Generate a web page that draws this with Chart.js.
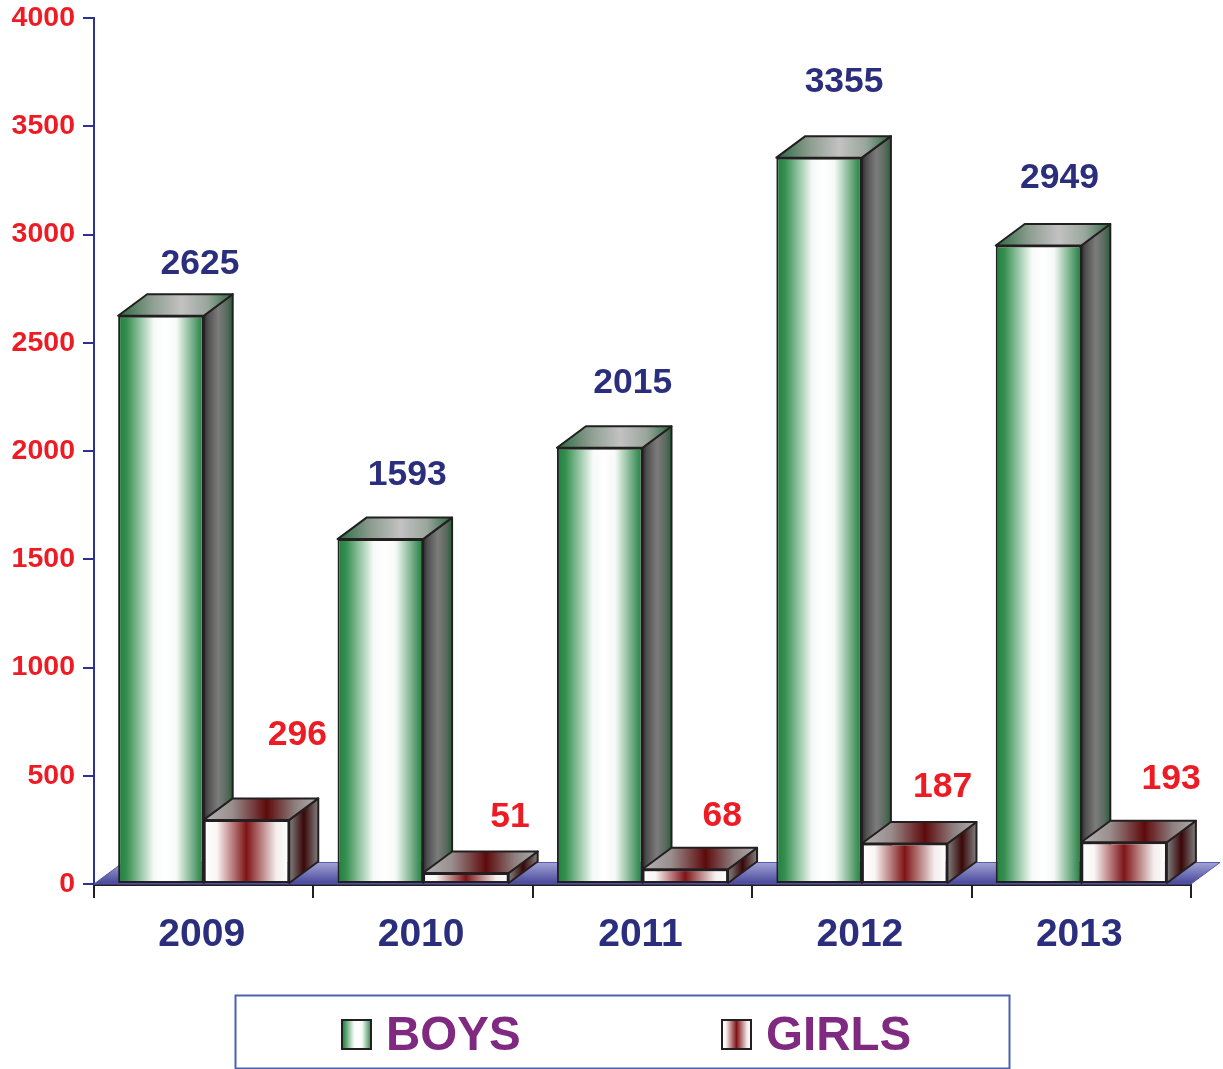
<!DOCTYPE html>
<html>
<head>
<meta charset="utf-8">
<title>Boys and girls</title>
<script src="https://cdn.jsdelivr.net/npm/chart.js@4"></script>
<style>
    html, body { margin: 0; padding: 0; background: #fff; overflow: hidden; }
    canvas { display: block; }
</style>
</head>
<body>
<canvas id="chart" width="1223" height="1069"></canvas>
<script>
// Values
const years = ["2009", "2010", "2011", "2012", "2013"];
const boys = [2625, 1593, 2015, 3355, 2949];
const girls = [296, 51, 68, 187, 193];

// Value labels sit off to the side of each bar, offsets from the bar top centre
const boysLabelDx = [39, 27, 33, 25, 21];
const boysLabelDy = [-51, -64, -65, -75, -67];
const girlsLabelDx = [51, 44, 37, 38, 47];
const girlsLabelDy = [-85, -56, -53, -56, -63];

const FONT = '"Liberation Sans", Arial, sans-serif';
const DARK = '#231f20';
const NAVY = '#2b2e7c';
const RED = '#ed1c24';
const PURPLE = '#7f2a80';
const DEPTH_X = 29;
const DEPTH_Y = 21.5;
const BAR_SHARE = 0.78;

// Gradient stops for the faces of the bars
const boysFront = [[0, '#1f7f3c'], [0.1, '#358f50'], [0.42, '#f6faf7'], [0.55, '#ffffff'], [0.68, '#f6faf7'], [0.95, '#3f8f58'], [1, '#1f7f3c']];
const boysTop = [[0, '#2a6a40'], [0.3, '#8f9e92'], [0.55, '#c2c2c2'], [0.78, '#9aa69c'], [1, '#2a6a40']];
const boysSide = [[0, '#2d2d2d'], [0.15, '#505050'], [0.5, '#7c7c7c'], [0.8, '#5a6a5e'], [1, '#26603a']];
const girlsFront = [[0, '#ffffff'], [0.15, '#fbf6f6'], [0.5, '#7e1416'], [0.85, '#f5eeee'], [1, '#ffffff']];
const girlsTop = [[0, '#b4b4b4'], [0.25, '#9a8e8e'], [0.55, '#5e0a0c'], [0.8, '#8f8080'], [1, '#b0b0b0']];
const girlsSide = [[0, '#808080'], [0.5, '#3a0708'], [1, '#808080']];

function makeGradient(ctx, x0, x1, stops) {
    const gradient = ctx.createLinearGradient(x0, 0, x1, 0);
    stops.forEach(stop => gradient.addColorStop(stop[0], stop[1]));
    return gradient;
}

// Scriptable fill: each bar gets its own gradient, side is -1 for boys, 0 for girls
function frontFill(stops, side) {
    return function (context) {
        const chart = context.chart;
        const xScale = chart.scales.x;
        if (!xScale || context.dataIndex === undefined) return stops[0][1];
        const centre = xScale.getPixelForTick(context.dataIndex);
        const barWidth = xScale.width / years.length * BAR_SHARE / 2;
        if (!Number.isFinite(centre) || !Number.isFinite(barWidth)) return stops[0][1];
        const x0 = centre + side * barWidth;
        return makeGradient(chart.ctx, x0, x0 + barWidth, stops);
    };
}

function fillFace(ctx, points, fill) {
    ctx.beginPath();
    ctx.moveTo(points[0][0], points[0][1]);
    points.slice(1).forEach(p => ctx.lineTo(p[0], p[1]));
    ctx.closePath();
    ctx.fillStyle = fill;
    ctx.fill();
    ctx.lineWidth = 2;
    ctx.lineJoin = 'round';
    ctx.strokeStyle = DARK;
    ctx.stroke();
}

// Top and side face of one bar
function drawDepth(ctx, bar, topStops, sideStops) {
    const left = bar.x - bar.width / 2;
    const right = bar.x + bar.width / 2;
    const top = bar.y;
    const base = bar.base;
    fillFace(ctx, [[right, top], [right + DEPTH_X, top - DEPTH_Y], [right + DEPTH_X, base - DEPTH_Y], [right, base]],
        makeGradient(ctx, right, right + DEPTH_X, sideStops));
    fillFace(ctx, [[left, top], [left + DEPTH_X, top - DEPTH_Y], [right + DEPTH_X, top - DEPTH_Y], [right, top]],
        makeGradient(ctx, left, right + DEPTH_X, topStops));
}

// Floor and bar depth go under the bars Chart.js draws
const depthPlugin = {
    id: 'depth',
    beforeDatasetsDraw(chart) {
        const ctx = chart.ctx;
        const area = chart.chartArea;
        ctx.save();
        const floor = ctx.createLinearGradient(0, area.bottom - DEPTH_Y, 0, area.bottom);
        floor.addColorStop(0, '#a3a3d6');
        floor.addColorStop(1, '#46469a');
        ctx.beginPath();
        ctx.moveTo(area.left, area.bottom);
        ctx.lineTo(area.left + DEPTH_X, area.bottom - DEPTH_Y);
        ctx.lineTo(area.right + DEPTH_X, area.bottom - DEPTH_Y);
        ctx.lineTo(area.right, area.bottom);
        ctx.closePath();
        ctx.fillStyle = floor;
        ctx.fill();
        ctx.lineWidth = 1;
        ctx.strokeStyle = '#5a5aae';
        ctx.stroke();

        chart.getDatasetMeta(0).data.forEach(bar => drawDepth(ctx, bar, boysTop, boysSide));
        chart.getDatasetMeta(1).data.forEach(bar => drawDepth(ctx, bar, girlsTop, girlsSide));
        ctx.restore();
    }
};

function drawValueLabels(ctx, meta, values, dx, dy, color) {
    ctx.fillStyle = color;
    meta.data.forEach((bar, i) => {
        ctx.fillText(String(values[i]), bar.x + dx[i], bar.y + dy[i]);
    });
}

function drawLegendItem(ctx, x, label, stops) {
    ctx.fillStyle = makeGradient(ctx, x, x + 31, stops);
    ctx.fillRect(x, 1019, 31, 31);
    ctx.lineWidth = 2;
    ctx.strokeStyle = DARK;
    ctx.strokeRect(x + 1, 1020, 29, 29);
    ctx.fillStyle = PURPLE;
    ctx.fillText(label, x + 45, 1037);
}

// Value labels and the boxed legend at the bottom
const labelPlugin = {
    id: 'labels',
    afterDraw(chart) {
        const ctx = chart.ctx;
        ctx.save();
        ctx.font = 'bold 35.5px ' + FONT;
        ctx.textAlign = 'center';
        ctx.textBaseline = 'middle';
        drawValueLabels(ctx, chart.getDatasetMeta(0), boys, boysLabelDx, boysLabelDy, NAVY);
        drawValueLabels(ctx, chart.getDatasetMeta(1), girls, girlsLabelDx, girlsLabelDy, RED);

        ctx.lineWidth = 2;
        ctx.strokeStyle = '#4a62ae';
        ctx.strokeRect(235.5, 995.5, 774, 73);
        ctx.font = 'bold 47.5px ' + FONT;
        ctx.textAlign = 'left';
        drawLegendItem(ctx, 341, chart.data.datasets[0].label, boysFront);
        drawLegendItem(ctx, 721, chart.data.datasets[1].label, girlsFront);
        ctx.restore();
    }
};

new Chart(document.getElementById('chart').getContext('2d'), {
    type: 'bar',
    data: {
        labels: years,
        datasets: [
            { label: 'BOYS', data: boys, backgroundColor: frontFill(boysFront, -1) },
            { label: 'GIRLS', data: girls, backgroundColor: frontFill(girlsFront, 0) }
        ]
    },
    options: {
        responsive: false,
        animation: false,
        layout: { padding: { top: 18, right: 32, left: 0, bottom: 0 } },
        categoryPercentage: BAR_SHARE,
        barPercentage: 1,
        elements: { bar: { borderColor: DARK, borderWidth: 2, borderSkipped: false } },
        plugins: { legend: { display: false }, tooltip: { enabled: false } },
        scales: {
            x: {
                afterFit(scale) { scale.height = 185; scale.paddingRight = 0; scale.paddingLeft = 0; },
                grid: { offset: true, drawOnChartArea: false, color: DARK, lineWidth: 2, tickLength: 14 },
                border: { color: DARK, width: 3 },
                ticks: { color: NAVY, font: { family: FONT, size: 39, weight: 'bold' }, padding: 14, labelOffset: -2, maxRotation: 0 }
            },
            y: {
                min: 0,
                max: 4000,
                afterFit(scale) { scale.width = 94; scale.paddingTop = 0; scale.paddingBottom = 0; },
                grid: { drawOnChartArea: false, color: '#2e3192', lineWidth: 2, tickLength: 11 },
                border: { color: '#2e3192', width: 2 },
                ticks: { stepSize: 500, color: RED, font: { family: FONT, size: 28.5, weight: 'bold' }, padding: 8, callback: value => String(value) }
            }
        }
    },
    plugins: [depthPlugin, labelPlugin]
});
</script>
</body>
</html>
